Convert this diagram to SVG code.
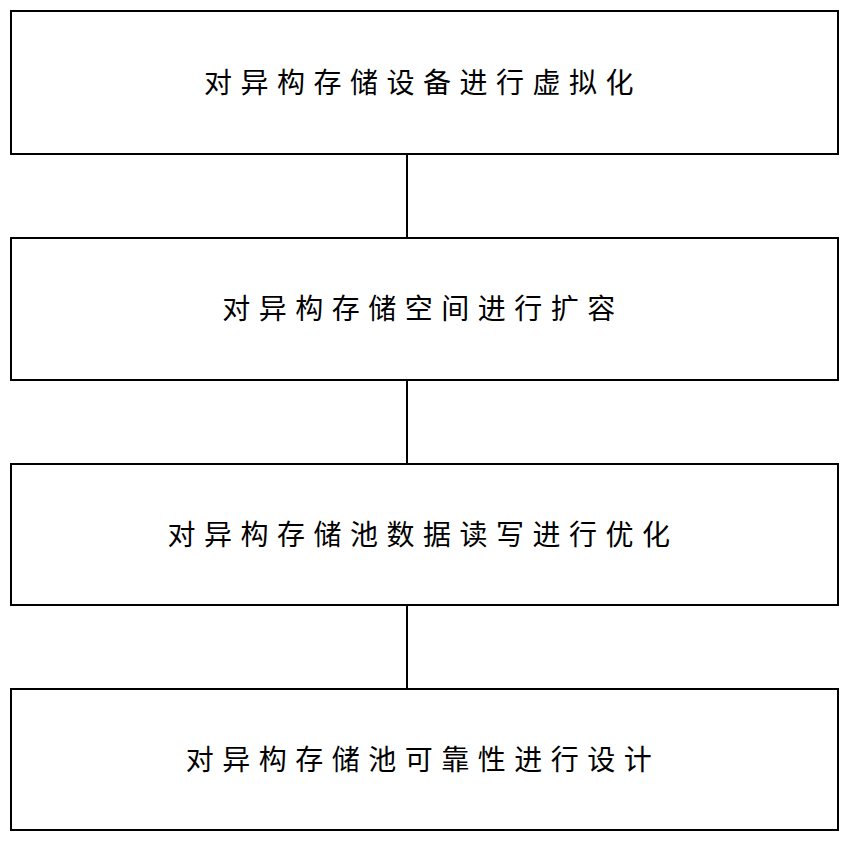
<svg xmlns="http://www.w3.org/2000/svg" width="849" height="841" viewBox="0 0 849 841">
<style>
.b{fill:#fff;stroke:#000;stroke-width:2}
.t{font-family:"Noto Sans CJK SC","Noto Sans",sans-serif;font-size:28px;letter-spacing:8.5px;text-anchor:middle;fill:#000}
.c{stroke:#000;stroke-width:2;fill:none}
</style>
<rect width="849" height="841" fill="#fff"/>
<g id="connectors">
<line class="c" x1="407" y1="155" x2="407" y2="238"/>
<line class="c" x1="407" y1="381" x2="407" y2="464"/>
<line class="c" x1="407" y1="606" x2="407" y2="689"/>
</g>
<g id="n1"><rect class="b" x="11" y="11" width="827" height="143"/><text class="t" x="423" y="93">对异构存储设备进行虚拟化</text></g>
<g id="n2"><rect class="b" x="11" y="238" width="827" height="142"/><text class="t" x="423" y="319">对异构存储空间进行扩容</text></g>
<g id="n3"><rect class="b" x="11" y="464" width="827" height="141"/><text class="t" x="423" y="545">对异构存储池数据读写进行优化</text></g>
<g id="n4"><rect class="b" x="11" y="689" width="827" height="141"/><text class="t" x="423" y="770">对异构存储池可靠性进行设计</text></g>
</svg>
